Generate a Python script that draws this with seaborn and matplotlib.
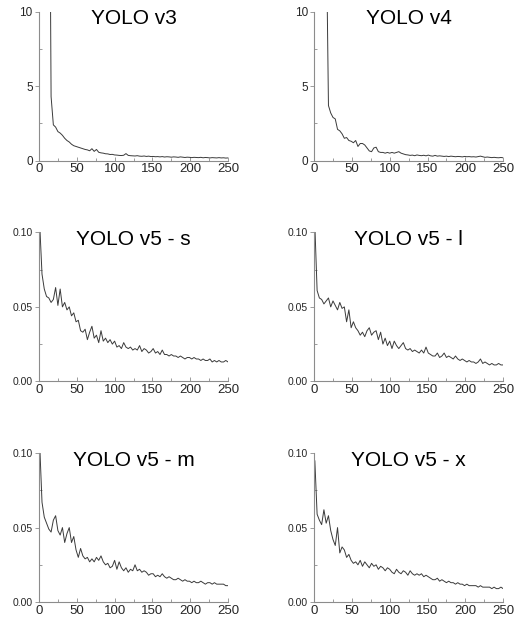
import numpy as np
import pandas as pd
import seaborn as sns
import matplotlib.pyplot as plt
from matplotlib.ticker import MultipleLocator, FormatStrFormatter

# epochs sampled every 3 epochs (1 ... 250)
epochs = list(range(1, 251, 3))

nan = np.nan
loss_v3 = [
    nan, nan, nan, nan, 30.0, 4.3, 2.4, 2.25, 1.95, 1.85,
    1.7, 1.5, 1.35, 1.25, 1.1, 1.0, 0.95, 0.9, 0.85, 0.8,
    0.75, 0.72, 0.66, 0.8, 0.62, 0.75, 0.56, 0.52, 0.5, 0.46,
    0.45, 0.41, 0.42, 0.38, 0.37, 0.35, 0.34, 0.36, 0.47, 0.35,
    0.33, 0.32, 0.31, 0.33, 0.3, 0.29, 0.31, 0.28, 0.3, 0.27,
    0.28, 0.26, 0.27, 0.25, 0.27, 0.24, 0.26, 0.25, 0.23, 0.25,
    0.24, 0.22, 0.25, 0.23, 0.21, 0.23, 0.22, 0.2, 0.22, 0.21,
    0.2, 0.22, 0.19, 0.21, 0.2, 0.18, 0.2, 0.19, 0.18, 0.2,
    0.18, 0.19, 0.17, 0.18,
]
loss_v4 = [
    nan, nan, nan, nan, nan, 16.3, 3.7, 3.2, 2.9, 2.8,
    2.1, 2.0, 1.8, 1.5, 1.55, 1.35, 1.3, 1.2, 1.35, 0.95,
    1.15, 1.15, 1.05, 0.85, 0.65, 0.6, 0.85, 0.9, 0.6, 0.55,
    0.55, 0.5, 0.55, 0.5, 0.55, 0.5, 0.55, 0.6, 0.5, 0.45,
    0.4, 0.38, 0.35, 0.37, 0.33, 0.38, 0.35, 0.33, 0.36, 0.32,
    0.37, 0.32, 0.3, 0.35, 0.3, 0.32, 0.3, 0.28, 0.3, 0.27,
    0.3, 0.28, 0.26, 0.28, 0.27, 0.25, 0.28, 0.26, 0.27, 0.25,
    0.26, 0.24, 0.27, 0.3, 0.26, 0.22, 0.24, 0.22, 0.2, 0.22,
    0.2, 0.19, 0.21, 0.19,
]
loss_v5s = [
    0.105, 0.072, 0.062, 0.057, 0.056, 0.053, 0.055, 0.063, 0.051, 0.062,
    0.050, 0.053, 0.048, 0.050, 0.044, 0.046, 0.040, 0.041, 0.034, 0.033,
    0.035, 0.028, 0.033, 0.037, 0.029, 0.031, 0.026, 0.034, 0.027, 0.029,
    0.026, 0.028, 0.025, 0.027, 0.023, 0.024, 0.022, 0.026, 0.023, 0.022,
    0.023, 0.021, 0.022, 0.021, 0.024, 0.020, 0.022, 0.021, 0.019, 0.020,
    0.022, 0.019, 0.020, 0.018, 0.021, 0.018, 0.018, 0.017, 0.018, 0.017,
    0.017, 0.016, 0.017, 0.016, 0.015, 0.016, 0.016, 0.015, 0.016, 0.015,
    0.015, 0.014, 0.015, 0.014, 0.014, 0.015, 0.013, 0.014, 0.013, 0.014,
    0.013, 0.013, 0.014, 0.013,
]
loss_v5l = [
    0.105, 0.061, 0.056, 0.055, 0.052, 0.054, 0.056, 0.050, 0.054, 0.051,
    0.048, 0.053, 0.049, 0.050, 0.040, 0.048, 0.036, 0.040, 0.036, 0.034,
    0.031, 0.033, 0.030, 0.034, 0.036, 0.031, 0.033, 0.034, 0.028, 0.033,
    0.025, 0.029, 0.024, 0.027, 0.022, 0.027, 0.024, 0.022, 0.024, 0.026,
    0.022, 0.021, 0.022, 0.020, 0.021, 0.020, 0.019, 0.021, 0.019, 0.023,
    0.019, 0.018, 0.017, 0.017, 0.019, 0.016, 0.017, 0.019, 0.016, 0.017,
    0.016, 0.015, 0.017, 0.015, 0.014, 0.015, 0.014, 0.013, 0.014, 0.013,
    0.013, 0.012, 0.013, 0.015, 0.012, 0.013, 0.012, 0.011, 0.012, 0.011,
    0.011, 0.012, 0.011, 0.011,
]
loss_v5m = [
    0.105, 0.067, 0.057, 0.053, 0.049, 0.047, 0.055, 0.058, 0.048, 0.045,
    0.050, 0.040, 0.046, 0.050, 0.040, 0.044, 0.035, 0.030, 0.036, 0.031,
    0.029, 0.030, 0.027, 0.029, 0.027, 0.030, 0.028, 0.031, 0.027, 0.025,
    0.026, 0.023, 0.024, 0.028, 0.022, 0.027, 0.023, 0.021, 0.023, 0.020,
    0.022, 0.021, 0.025, 0.021, 0.022, 0.020, 0.021, 0.020, 0.018, 0.019,
    0.019, 0.017, 0.018, 0.017, 0.019, 0.017, 0.016, 0.017, 0.016, 0.015,
    0.015, 0.016, 0.015, 0.014, 0.015, 0.014, 0.014, 0.013, 0.014, 0.013,
    0.013, 0.014, 0.013, 0.012, 0.013, 0.013, 0.012, 0.013, 0.012, 0.012,
    0.012, 0.012, 0.011, 0.011,
]
loss_v5x = [
    0.095, 0.059, 0.055, 0.052, 0.062, 0.053, 0.058, 0.048, 0.042, 0.038,
    0.050, 0.033, 0.037, 0.035, 0.030, 0.032, 0.028, 0.026, 0.027, 0.025,
    0.028, 0.024, 0.027, 0.025, 0.023, 0.026, 0.024, 0.025, 0.022, 0.024,
    0.023, 0.021, 0.023, 0.022, 0.020, 0.019, 0.022, 0.020, 0.019, 0.021,
    0.020, 0.018, 0.021, 0.019, 0.018, 0.019, 0.018, 0.019, 0.017, 0.018,
    0.017, 0.016, 0.015, 0.015, 0.016, 0.014, 0.015, 0.014, 0.013, 0.014,
    0.013, 0.013, 0.012, 0.013, 0.012, 0.012, 0.011, 0.012, 0.011, 0.011,
    0.011, 0.011, 0.010, 0.011, 0.010, 0.010, 0.010, 0.010, 0.009, 0.010,
    0.009, 0.009, 0.010, 0.009,
]

titles = ["YOLO v3", "YOLO v4", "YOLO v5 - s", "YOLO v5 - l", "YOLO v5 - m", "YOLO v5 - x"]
series = [loss_v3, loss_v4, loss_v5s, loss_v5l, loss_v5m, loss_v5x]

sns.set_style("ticks")
plt.rcParams['font.family'] = ['Liberation Sans', 'DejaVu Sans']

axis_grey = "#8c8c8c"

fig, axes = plt.subplots(3, 2, figsize=(5.15, 6.2), dpi=100)
fig.subplots_adjust(left=0.0757, right=0.977, top=0.981, bottom=0.029,
                    wspace=0.455, hspace=0.483)

for i, ax in enumerate(axes.flat):
    df = pd.DataFrame({"epoch": epochs, "loss": series[i]})
    sns.lineplot(data=df, x="epoch", y="loss", ax=ax, color="#3a3a3a",
                 linewidth=0.7, estimator=None, sort=False)
    ax.set_xlim(0, 250)
    if i < 2:
        ax.set_ylim(0, 10)
        ax.yaxis.set_major_locator(MultipleLocator(5))
        ax.yaxis.set_minor_locator(MultipleLocator(2.5))
        ylab = 8.5
    else:
        ax.set_ylim(0, 0.10)
        ax.yaxis.set_major_locator(MultipleLocator(0.05))
        ax.yaxis.set_minor_locator(MultipleLocator(0.025))
        ax.yaxis.set_major_formatter(FormatStrFormatter('%.2f'))
        ylab = 7.5
    ax.xaxis.set_major_locator(MultipleLocator(50))
    ax.xaxis.set_minor_locator(MultipleLocator(25))
    ax.set_xlabel("")
    ax.set_ylabel("")
    sns.despine(ax=ax)
    for side in ["left", "bottom"]:
        ax.spines[side].set_color(axis_grey)
        ax.spines[side].set_linewidth(0.8)
    ax.tick_params(axis="x", which="major", direction="in", length=3, width=0.6,
                   color=axis_grey, labelsize=9.5, pad=2)
    ax.tick_params(axis="x", which="minor", direction="in", length=2, width=0.6,
                   color=axis_grey)
    ax.tick_params(axis="y", which="major", direction="out", length=3, width=0.6,
                   color=axis_grey, labelsize=ylab, pad=1.5)
    ax.tick_params(axis="y", which="minor", direction="in", length=2, width=0.6,
                   color=axis_grey)
    ax.text(0.5, 0.915, titles[i], transform=ax.transAxes, ha="center",
            va="baseline", fontsize=15, color="black")

plt.savefig("out.png", dpi=100)
